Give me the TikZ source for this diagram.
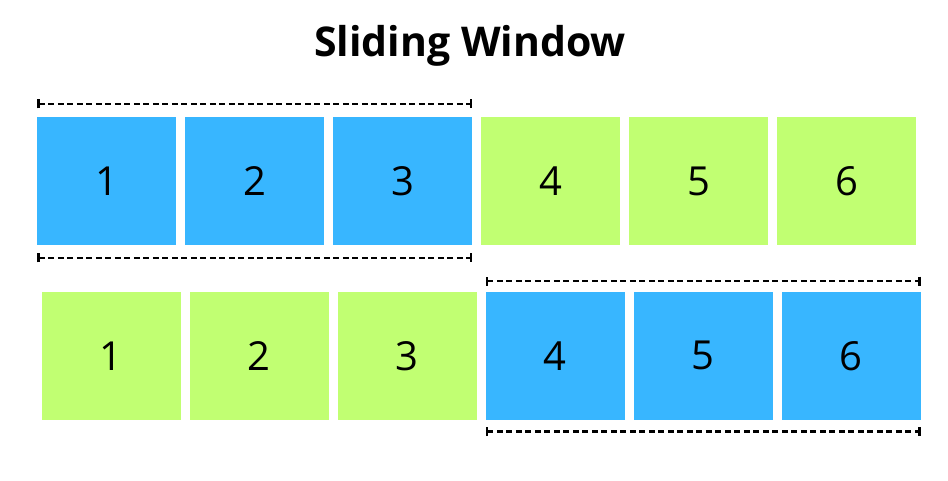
\documentclass[tikz,border=0pt]{standalone}
\usepackage{fontspec}
\setmainfont{Open Sans}
\usetikzlibrary{arrows.meta,positioning}
\definecolor{winblue}{HTML}{38B6FF}
\definecolor{restgreen}{HTML}{C1FF72}
\tikzset{
  cell/.style={minimum width=139pt, minimum height=127.5pt, inner sep=0pt, outer sep=0pt,
               font=\fontsize{40}{40}\selectfont, text=black},
  wincell/.style={cell, fill=winblue},
  restcell/.style={cell, fill=restgreen},
  winspan/.style={{Bar[width=9pt]}-{Bar[width=9pt]}, dash pattern=on 6pt off 3.5pt,
               line width=2.5pt, black},
  titletext/.style={font=\bfseries\fontsize{41}{48}\selectfont, text=black},
}
\begin{document}
\begin{tikzpicture}[x=1pt, y=-1pt, node distance=9pt]
  \useasboundingbox (0,0) rectangle (948,481);

  \node[titletext, anchor=base] (title) at (470,57) {Sliding Window};

  % first row: window on 1..3
  \node[wincell, anchor=north west] (a1) at (37,117.5) {1};
  \node[wincell, right=of a1] (a2) {2};
  \node[wincell, right=of a2] (a3) {3};
  \node[restcell, right=of a3] (a4) {4};
  \node[restcell, right=of a4] (a5) {5};
  \node[restcell, right=of a5] (a6) {6};

  % second row: window on 4..6
  \node[restcell, anchor=north west] (b1) at (41.5,292) {1};
  \node[restcell, right=of b1] (b2) {2};
  \node[restcell, right=of b2] (b3) {3};
  \node[wincell, right=of b3] (b4) {4};
  \node[wincell, right=of b4] (b5) {5};
  \node[wincell, right=of b5] (b6) {6};

  \draw[winspan] ([yshift=13.5pt]a1.north west) -- ([yshift=13.5pt]a3.north east);
  \draw[winspan] ([yshift=-13pt]a1.south west) -- ([yshift=-13pt]a3.south east);
  \draw[winspan] ([yshift=11pt]b4.north west) -- ([yshift=11pt]b6.north east);
  \draw[winspan] ([yshift=-12pt]b4.south west) -- ([yshift=-12pt]b6.south east);

\end{tikzpicture}
\end{document}
